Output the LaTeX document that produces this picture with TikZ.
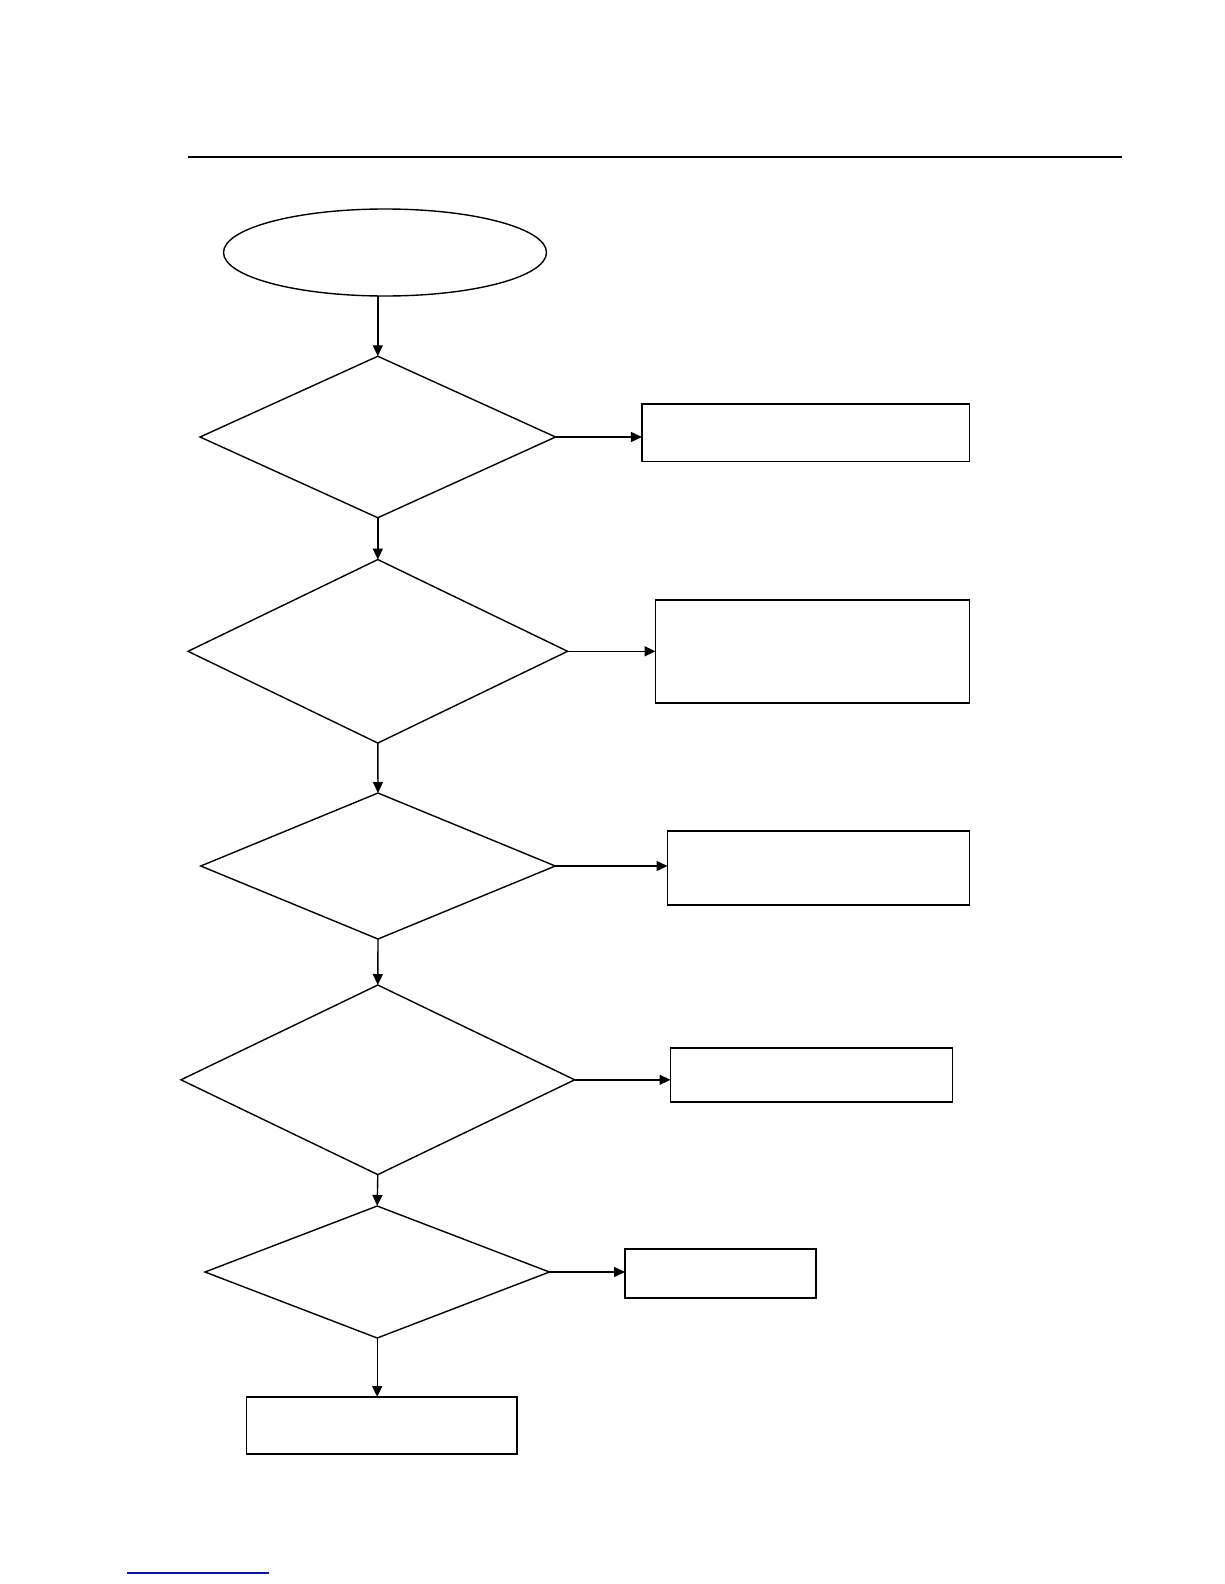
\documentclass[tikz,border=0pt]{standalone}
\usetikzlibrary{shapes.geometric,arrows.meta}
\begin{document}
\begin{tikzpicture}[x=1pt,y=-1pt,
  outl/.style={draw=black,line width=1.4pt,inner sep=0pt,outer sep=0pt},
  dia/.style={outl,diamond},
  box/.style={outl,rectangle},
  oval/.style={outl,ellipse},
  conn/.style={draw=black,line width=1.4pt,-{Triangle[length=11pt,width=10pt]}}]
\useasboundingbox[fill=white] (0,0) rectangle (1224,1584);
% rules
\coordinate (tl) at (188,157);
\coordinate (tr) at (1122,157);
\draw[line width=1.8pt] (tl) -- (tr);
\coordinate (bl) at (127,1573);
\coordinate (br) at (269,1573);
\draw[line width=1.6pt,draw={rgb,255:red,20;green,20;blue,150}] (bl) -- (br);
% start
\node[oval,minimum width=323pt,minimum height=87pt] (e) at (385,252.5) {};
% diamonds
\node[dia,minimum width=355.5pt,minimum height=161.5pt] (d1) at (377.8,437) {};
\node[dia,minimum width=379.6pt,minimum height=183.5pt] (d2) at (377.8,651.3) {};
\node[dia,minimum width=354.5pt,minimum height=146pt] (d3) at (378,866) {};
\node[dia,minimum width=393.7pt,minimum height=189.6pt] (d4) at (377.8,1079.8) {};
\node[dia,minimum width=344.4pt,minimum height=132pt] (d5) at (377.2,1272) {};
% boxes
\node[box,minimum width=327.5pt,minimum height=57.5pt] (b1) at (805.7,432.7) {};
\node[box,minimum width=314pt,minimum height=103pt] (b2) at (812.5,651.5) {};
\node[box,minimum width=302pt,minimum height=74pt] (b3) at (818.5,868) {};
\node[box,minimum width=282pt,minimum height=54pt] (b4) at (811.5,1075) {};
\node[box,minimum width=191pt,minimum height=49pt] (b5) at (720.5,1273.5) {};
\node[box,minimum width=270.6pt,minimum height=57pt] (b6) at (381.7,1425.5) {};
% vertical connectors
\draw[conn] (d1.north |- e.south) -- (d1.north);
\draw[conn] (d1.south) -- (d2.north);
\draw[conn] (d2.south) -- (d3.north);
\draw[conn] (d3.south) -- (d4.north);
\draw[conn] (d4.south) -- (d5.north);
\draw[conn] (d5.south) -- (d5.south |- b6.north);
% horizontal connectors
\draw[conn] (d1.east) -- (d1.east -| b1.west);
\draw[conn] (d2.east) -- (d2.east -| b2.west);
\draw[conn] (d3.east) -- (d3.east -| b3.west);
\draw[conn] (d4.east) -- (d4.east -| b4.west);
\draw[conn] (d5.east) -- (d5.east -| b5.west);
\end{tikzpicture}
\end{document}
